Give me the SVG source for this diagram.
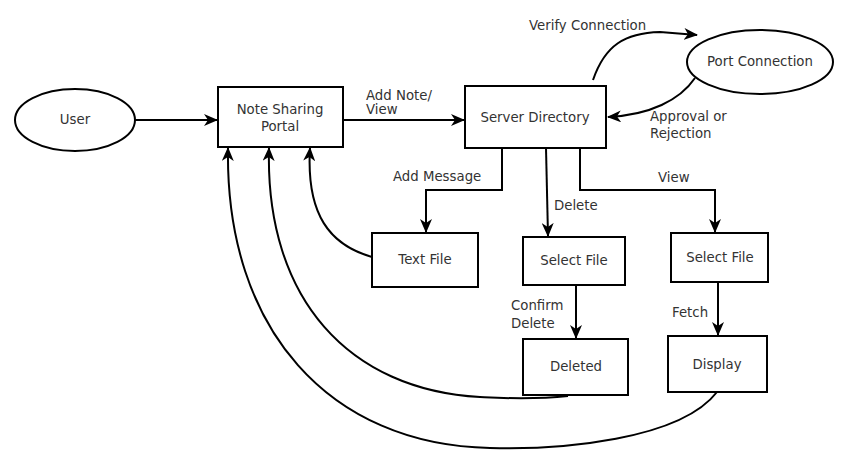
<svg xmlns="http://www.w3.org/2000/svg" width="852" height="454" viewBox="0 0 852 454">
<defs>
<marker id="ah" viewBox="0 0 14 12" refX="13" refY="6" markerWidth="14" markerHeight="12" markerUnits="userSpaceOnUse" orient="auto">
<path d="M0,0 L14,6 L0,12 L4,6 z" fill="#000"/>
</marker>
<style>
.n{fill:#fff;stroke:#000;stroke-width:2}
.t{font-family:"DejaVu Sans",Verdana,sans-serif;font-size:13.3px;fill:#333;text-anchor:middle}
.l{font-family:"DejaVu Sans",Verdana,sans-serif;font-size:13.3px;fill:#333}
.c{fill:none;stroke:#000;stroke-width:2;marker-end:url(#ah)}
</style>
</defs>
<rect width="852" height="454" fill="#fff"/>
<g id="connectors">
<path class="c" d="M135,120 L217,120"/>
<path class="c" d="M343,120 L464,120"/>
<path class="c" d="M593,80 C605,45 625,33 660,32 L697,35"/>
<path class="c" d="M695,78 C680,100 650,115 608,117"/>
<path class="c" d="M502,148 L502,190 L426,190 L426,232"/>
<path class="c" d="M546,148 L548,236"/>
<path class="c" d="M580,148 L580,190 L715,190 L715,232"/>
<path class="c" d="M576,285 L576,338"/>
<path class="c" d="M718,282 L718,335"/>
<path class="c" d="M372,257 C330,245 306,215 310,148"/>
<path class="c" d="M568,396 C530,400 500,398 480,397 C350,390 265,300 269,148"/>
<path class="c" d="M717,392 C680,440 560,450 490,448 C330,445 225,330 228,148"/>
</g>
<g id="user"><ellipse class="n" cx="75" cy="120" rx="60" ry="31"/><text class="t" x="75" y="124">User</text></g>
<g id="portal"><rect class="n" x="218" y="87" width="125" height="60"/><text class="t" x="280" y="114">Note Sharing</text><text class="t" x="280" y="131">Portal</text></g>
<g id="server"><rect class="n" x="465" y="86" width="141" height="62"/><text class="t" x="535" y="122">Server Directory</text></g>
<g id="port"><ellipse class="n" cx="760" cy="62" rx="73" ry="32"/><text class="t" x="760" y="66">Port Connection</text></g>
<g id="textfile"><rect class="n" x="372" y="233" width="106" height="54"/><text class="t" x="425" y="264">Text File</text></g>
<g id="selectfile1"><rect class="n" x="523" y="237" width="102" height="48"/><text class="t" x="574" y="265">Select File</text></g>
<g id="selectfile2"><rect class="n" x="671" y="233" width="97" height="49"/><text class="t" x="720" y="262">Select File</text></g>
<g id="deleted"><rect class="n" x="523" y="339" width="105" height="56"/><text class="t" x="576" y="371">Deleted</text></g>
<g id="display"><rect class="n" x="668" y="336" width="99" height="56"/><text class="t" x="717" y="369">Display</text></g>
<g id="labels">
<text class="l" x="366" y="100">Add Note/</text>
<text class="l" x="366" y="114">View</text>
<text class="l" x="529" y="30">Verify Connection</text>
<text class="l" x="650" y="121">Approval or</text>
<text class="l" x="650" y="138">Rejection</text>
<text class="l" x="393" y="181">Add Message</text>
<text class="l" x="554" y="210">Delete</text>
<text class="l" x="658" y="182">View</text>
<text class="l" x="511" y="310">Confirm</text>
<text class="l" x="511" y="328">Delete</text>
<text class="l" x="672" y="317">Fetch</text>
</g>
</svg>
